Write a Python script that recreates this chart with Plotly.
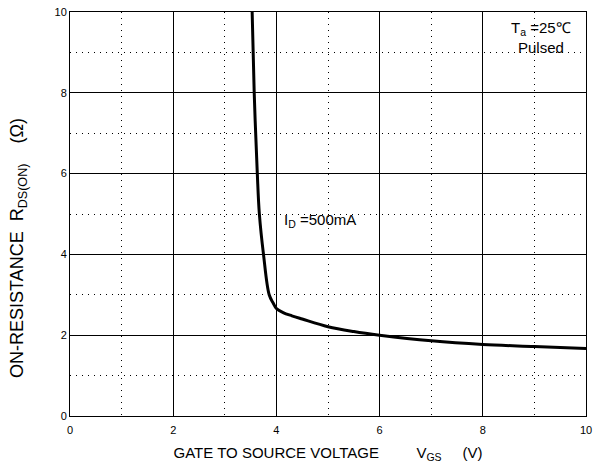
import plotly.graph_objects as go

vgs = [3.53, 3.57, 3.63, 3.67, 3.75, 3.86, 3.94, 4.0, 4.13, 4.3, 4.5, 5.0, 5.5, 6.0, 7.0, 8.0, 9.0, 10.0]
rds = [10.0, 8.0, 6.0, 5.0, 4.0, 3.0, 2.79, 2.66, 2.56, 2.48, 2.40, 2.21, 2.09, 2.0, 1.86, 1.77, 1.72, 1.67]

x_ticks = [0, 2, 4, 6, 8, 10]
y_ticks = [0, 2, 4, 6, 8, 10]

font = "Liberation Sans, Arial, sans-serif"
tf = 15

fig = go.Figure()
fig.add_trace(go.Scatter(x=vgs, y=rds, mode="lines",
                         line=dict(color="black", width=3, shape="spline", smoothing=1.0),
                         showlegend=False, hoverinfo="skip"))

axis_common = dict(
    showline=True, linecolor="black", linewidth=1, mirror=True,
    showgrid=True, gridcolor="black", gridwidth=1, automargin=False,
    zeroline=False, ticks="", tickfont=dict(family=font, size=11, color="black"),
    ticklabeloverflow="allow",
    minor=dict(showgrid=True, gridcolor="black", gridwidth=1, griddash="1px,5px", dtick=1),
)

fig.update_xaxes(range=[0, 10], tickvals=x_ticks, ticktext=[str(v) for v in x_ticks],
                 ticklabelstandoff=4,
                 title=dict(text="GATE TO SOURCE VOLTAGE         V<sub>GS</sub>     (V)",
                            font=dict(family=font, size=tf, color="black"), standoff=12),
                 **axis_common)
fig.update_yaxes(range=[0, 10], tickvals=y_ticks, ticktext=[str(v) for v in y_ticks],
                 **axis_common)

# y-axis title (rotated), placed to match the reference
fig.add_annotation(x=-0.126, y=4.17, xref="paper", yref="y", textangle=-90,
                   text="ON-RESISTANCE  R<sub>DS(ON)</sub>    (Ω)",
                   showarrow=False, font=dict(family=font, size=18, color="black"))

fig.add_annotation(x=9.13, y=9.6, xref="x", yref="y", text="T<sub>a</sub> =25℃",
                   showarrow=False, font=dict(family=font, size=tf, color="black"))
fig.add_annotation(x=9.13, y=9.12, xref="x", yref="y", text="Pulsed",
                   showarrow=False, font=dict(family=font, size=tf, color="black"))
fig.add_annotation(x=4.1, y=4.85, xref="x", yref="y", text="I<sub>D</sub> =500mA",
                   showarrow=False, xanchor="left", font=dict(family=font, size=tf, color="black"))

fig.update_layout(width=600, height=468, margin=dict(l=70, r=14, t=12, b=52),
                  plot_bgcolor="white", paper_bgcolor="white")

# remove the default page margin so the 600x468 figure fills the window exactly
fig.write_html("out.html", config={"displayModeBar": False},
               post_script="document.body.style.margin='0px';")
